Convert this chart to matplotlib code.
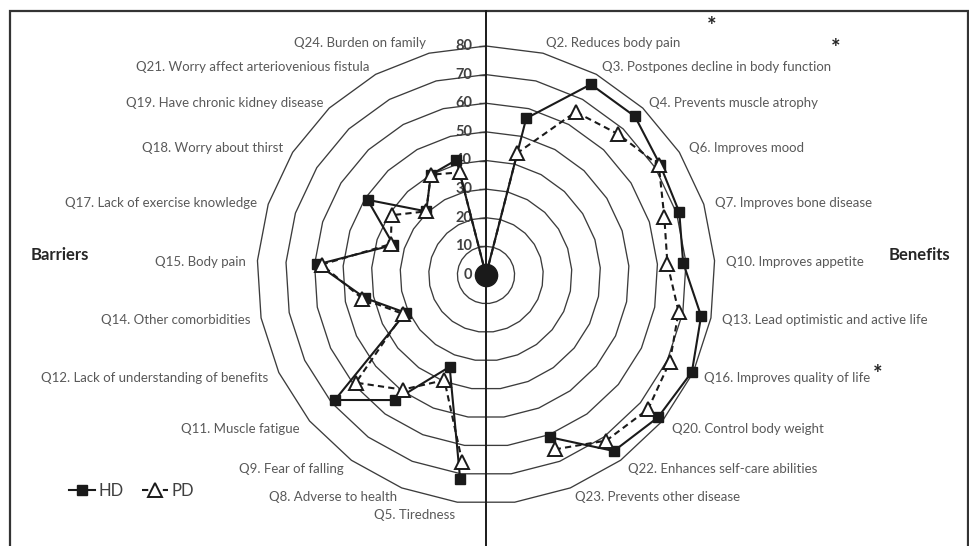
import numpy as np
import matplotlib
matplotlib.use("Agg")
import matplotlib.pyplot as plt
from matplotlib.lines import Line2D
from matplotlib.patches import Rectangle

plt.rcParams["font.family"] = ["Lato", "DejaVu Sans"]

# ---- data -------------------------------------------------------------
benefit_labels = [
    "Q2. Reduces body pain",
    "Q3. Postpones decline in body function",
    "Q4. Prevents muscle atrophy",
    "Q6. Improves mood",
    "Q7. Improves bone disease",
    "Q10. Improves appetite",
    "Q13. Lead optimistic and active life",
    "Q16. Improves quality of life",
    "Q20. Control body weight",
    "Q22. Enhances self-care abilities",
    "Q23. Prevents other disease",
]
barrier_labels = [
    "Q5. Tiredness",
    "Q8. Adverse to health",
    "Q9. Fear of falling",
    "Q11. Muscle fatigue",
    "Q12. Lack of understanding of benefits",
    "Q14. Other comorbidities",
    "Q15. Body pain",
    "Q17. Lack of exercise knowledge",
    "Q18. Worry about thirst",
    "Q19. Have chronic kidney disease",
    "Q21. Worry affect arteriovenious fistula",
    "Q24. Burden on family",
]

hd_benefits = [56.5, 76, 76, 72, 71, 69, 76.5, 79.5, 78, 76, 61]
pd_benefits = [44, 65, 67.5, 71.5, 65.5, 63.5, 68.5, 71, 73.5, 71.5, 65.5]
hd_barriers = [72, 34.5, 54, 68.5, 31, 43, 59, 34, 49, 30.5, 40, 41.5]
pd_barriers = [66, 39.5, 49.5, 59, 32, 44, 57.5, 35, 39, 30.5, 40, 37]

ring_values = [10, 20, 30, 40, 50, 60, 70, 80]

# ---- layout (figure pixels) -------------------------------------------
W, H = 969, 546
CX, CY, RPX = 486, 275, 229

# left edge / centre line of each benefit label
benefit_xy = [(546, 43), (602, 67), (649, 103), (689, 148), (715, 203),
              (726, 262), (722, 320), (704, 378), (672, 429), (628, 469),
              (575, 497)]
# right edge / centre line of each barrier label
barrier_xy = [(455, 515), (397, 497), (344, 469), (300, 429), (268, 378),
              (250, 320), (246, 262), (257, 203), (283, 148), (323, 103),
              (370, 67), (426, 43)]
# significance marks
star_xy = [(712, 26), (836, 48), (878, 375)]

TEXT = "#595959"
DARK = "#262626"
GRID = "#3c3c3c"


def fx(x):
    return x / W


def fy(y):
    return 1 - y / H


fig = plt.figure(figsize=(W / 100, H / 100), dpi=100)

ax = fig.add_axes([fx(CX - RPX), fy(CY + RPX), 2 * RPX / W, 2 * RPX / H],
                  projection="polar")
ax.set_theta_zero_location("N")
ax.set_theta_direction(-1)
ax.set_ylim(0, 80)
ax.set_axis_off()

# one spoke per category: blank origin, 11 benefits, empty slot, 12 barriers
n_cat = 1 + len(benefit_labels) + 1 + len(barrier_labels)
theta = 2 * np.pi * np.arange(n_cat + 1) / n_cat

# polygon gridlines
for r in ring_values:
    ax.plot(theta, [r] * len(theta), color=GRID, lw=0.95, zorder=1,
            clip_on=False)

hd_vals = [0] + hd_benefits + [np.nan] + hd_barriers + [0]
pd_vals = [0] + pd_benefits + [np.nan] + pd_barriers + [0]

hd_line, = ax.plot(theta, hd_vals, color="#1a1a1a", lw=1.5, marker="s",
                   ms=7.5, mfc="#1a1a1a", mec="#1a1a1a", zorder=4,
                   clip_on=False)
pd_line, = ax.plot(theta, pd_vals, color="#1a1a1a", lw=1.5,
                   linestyle=(0, (3, 2)), marker="^", ms=9.5, mfc="white",
                   mec="#1a1a1a", mew=1.4, zorder=5, clip_on=False)

# origin dot
ax.plot([0], [0], "o", ms=16, color="#1a1a1a", zorder=6, clip_on=False)

# value-axis ticks and labels
ax.plot([0] * len(ring_values), ring_values, linestyle="none", marker=0,
        ms=5, mew=1.0, color=GRID, zorder=2, clip_on=False)
for r in [0] + ring_values:
    ax.annotate(str(r), xy=(0, r), xytext=(-10, 0),
                textcoords="offset points", ha="right", va="center",
                fontsize=10.5, color="#404040", fontweight="bold",
                annotation_clip=False)

# category labels
for lab, (x, y) in zip(benefit_labels, benefit_xy):
    fig.text(fx(x), fy(y), lab, ha="left", va="center", fontsize=9.5,
             color=TEXT)
for lab, (x, y) in zip(barrier_labels, barrier_xy):
    fig.text(fx(x), fy(y), lab, ha="right", va="center", fontsize=9.5,
             color=TEXT)
for x, y in star_xy:
    fig.text(fx(x), fy(y), "*", ha="center", va="center", fontsize=16,
             color=DARK, fontweight="bold")

fig.text(fx(31), fy(255), "Barriers", ha="left", va="center", fontsize=12,
         fontweight="bold", color=DARK)
fig.text(fx(950), fy(255), "Benefits", ha="right", va="center", fontsize=12,
         fontweight="bold", color=DARK)

# divider between the two halves and the outer frame
fig.add_artist(Line2D([fx(CX), fx(CX)], [0, fy(11)], color="#1a1a1a",
                      lw=1.4))
fig.add_artist(Rectangle((fx(10), -0.05), fx(968) - fx(10), fy(11) + 0.05,
                         fill=False, edgecolor="#333333", lw=1.6))

fig.legend([hd_line, pd_line], ["HD", "PD"], loc="center left",
           bbox_to_anchor=(fx(61), fy(491)), ncol=2, frameon=False,
           handlelength=1.55, handletextpad=0.2, columnspacing=1.1,
           fontsize=12, labelcolor="#404040", borderpad=0)

fig.savefig("out.png", dpi=100)
